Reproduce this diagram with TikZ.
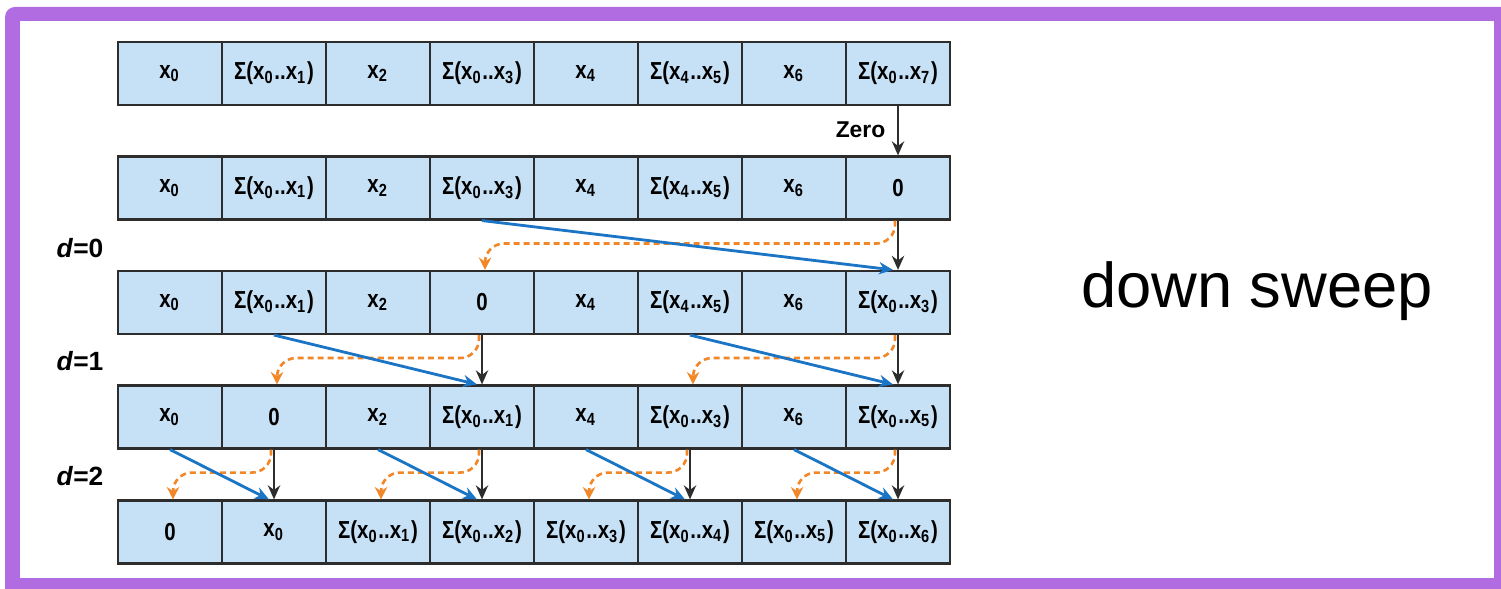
\documentclass[tikz,border=0pt]{standalone}
\usepackage{fontspec}
\setmainfont{Liberation Sans}
\newfontfamily\cellfont[FakeStretch=0.83]{Liberation Sans}
\usetikzlibrary{arrows.meta}

\definecolor{framepurple}{RGB}{178,108,226}
\definecolor{cellblue}{RGB}{198,225,246}
\definecolor{sumblue}{RGB}{27,117,196}
\definecolor{copyorange}{RGB}{242,135,40}
\definecolor{darkline}{RGB}{45,45,45}

\newcommand{\xs}[1]{x\textsubscript{#1}}
\newcommand{\sm}[2]{Σ(\xs{#1}..\xs{#2})}

\tikzset{
  cell/.style={draw=darkline, line width=0.6pt, fill=cellblue, minimum width=1.04cm,
    minimum height=0.63cm, inner sep=0pt, font=\cellfont\bfseries\fontsize{7}{8}\selectfont},
  pass/.style={darkline, line width=0.6pt, -{Stealth[length=4pt,width=3.5pt]}},
  sumarrow/.style={sumblue, line width=0.8pt, -{Stealth[length=4pt,width=3.5pt]}},
  copyarrow/.style={copyorange, line width=0.75pt, dash pattern=on 0.06cm off 0.04cm,
    rounded corners=0.19cm, -{Stealth[length=3.5pt,width=3.5pt]}},
  level/.style={inner sep=0pt, font=\bfseries\fontsize{7.5}{8}\selectfont, anchor=base west}
}

\begin{document}
\begin{tikzpicture}[x=0.01cm, y=-0.01cm]
      \useasboundingbox (0,0) rectangle (1501,589);
      \clip (0,0) rectangle (1501,589);

      % frame
      \fill[framepurple, rounded corners=0.1cm] (5,7) rectangle (1520,610);
      \fill[white] (20,21) rectangle (1494,578);

      % the five rows of the array
      \foreach \t [count=\c] in {\xs0, \sm01, \xs2, \sm03, \xs4, \sm45, \xs6, \sm07}
        \node[cell] (r1-\c) at ({170+104*(\c-1)},73.5) {\t};
      \foreach \t [count=\c] in {\xs0, \sm01, \xs2, \sm03, \xs4, \sm45, \xs6, 0}
        \node[cell] (r2-\c) at ({170+104*(\c-1)},188) {\t};
      \foreach \t [count=\c] in {\xs0, \sm01, \xs2, 0, \xs4, \sm45, \xs6, \sm03}
        \node[cell] (r3-\c) at ({170+104*(\c-1)},302.5) {\t};
      \foreach \t [count=\c] in {\xs0, 0, \xs2, \sm01, \xs4, \sm03, \xs6, \sm05}
        \node[cell] (r4-\c) at ({170+104*(\c-1)},417) {\t};
      \foreach \t [count=\c] in {0, \xs0, \sm01, \sm02, \sm03, \sm04, \sm05, \sm06}
        \node[cell] (r5-\c) at ({170+104*(\c-1)},532) {\t};

      % zero the last element
      \draw[pass] (r1-8.south) -- (r2-8.north);
      \node[anchor=base east, inner sep=0pt, font=\bfseries\fontsize{6.5}{8}\selectfont] (zero) at (886,138) {Zero};

      % levels of the sweep
      \node[level] (d0) at (56,258) {\textit{d}=0};
      \node[level] (d1) at (56,371) {\textit{d}=1};
      \node[level] (d2) at (56,486) {\textit{d}=2};

      % left index / right index / upper row / lower row
      \foreach \a/\b/\r/\n in {4/8/2/3, 2/4/3/4, 6/8/3/4, 1/2/4/5, 3/4/4/5, 5/6/4/5, 7/8/4/5} {
        \draw[pass] (r\r-\b.south) -- (r\n-\b.north);
        \draw[copyarrow] ([xshift=-0.03cm]r\r-\b.south) -- ++(0,23) -| ([xshift=0.03cm]r\n-\a.north);
        \draw[sumarrow] (r\r-\a.south) -- ([xshift=-0.05cm]r\n-\b.north);
      }

      \node[anchor=base, font=\fontsize{18}{20}\selectfont] (title) at (1257,308) {down sweep};
\end{tikzpicture}
\end{document}
